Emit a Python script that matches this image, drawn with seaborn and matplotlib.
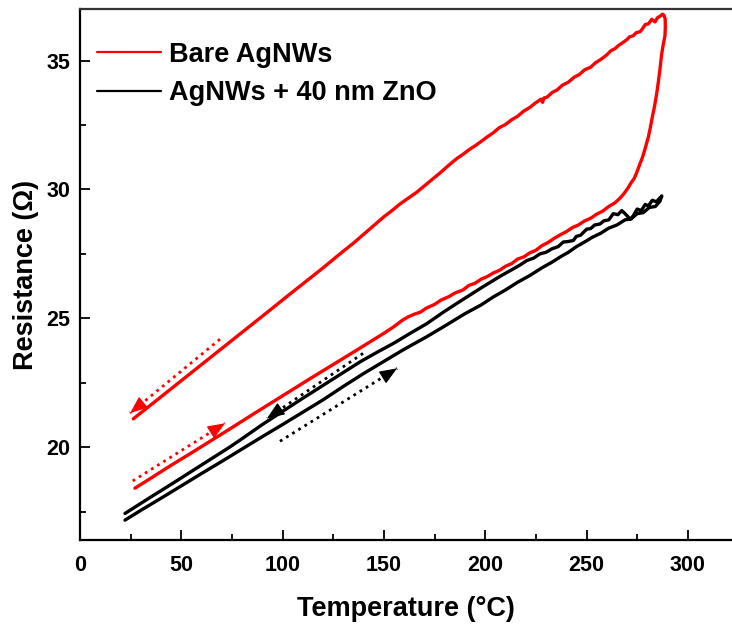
import matplotlib
matplotlib.use("Agg")
import matplotlib.pyplot as plt
from matplotlib.lines import Line2D
import numpy as np
import pandas as pd
import seaborn as sns

# ---------------- data ----------------
# Bare AgNWs, heating branch (T in degC, R in Ohm)
red_heat_T = [27.1, 35, 45, 55, 65, 75, 85, 95, 105, 115, 125, 135, 143, 150, 155, 159, 162, 165, 168,
              171, 175, 178, 182, 185, 189, 192, 195, 198, 201, 204, 207, 210, 213, 216, 219, 222, 225,
              228, 231, 234, 237, 240, 243, 246, 249, 252, 255, 258, 261, 264, 266.5, 268.5, 270.5, 272,
              273.5, 275, 276.4, 277.5, 278.8, 280.5, 281.5, 282.5, 283.5, 284.6, 285.5, 286.3, 287.0,
              287.8, 288.7, 288.9]
red_heat_R = [18.41, 18.80, 19.30, 19.78, 20.27, 20.76, 21.26, 21.75, 22.24, 22.73, 23.21, 23.69, 24.08,
              24.42, 24.68, 24.92, 25.06, 25.16, 25.24, 25.40, 25.54, 25.70, 25.84, 25.98, 26.10, 26.28,
              26.36, 26.52, 26.62, 26.76, 26.86, 27.02, 27.12, 27.30, 27.38, 27.54, 27.64, 27.82, 27.94,
              28.10, 28.24, 28.36, 28.52, 28.62, 28.78, 28.88, 29.04, 29.16, 29.34, 29.48, 29.66, 29.84,
              30.06, 30.26, 30.42, 30.70, 31.00, 31.22, 31.55, 32.03, 32.40, 32.82, 33.20, 33.70, 34.20,
              34.70, 35.20, 35.60, 35.95, 36.30]
# Bare AgNWs, cooling branch
red_cool_T = [288.8, 288.3, 287.5, 286.3, 285.0, 283.8, 282.2, 280.5, 279.0, 277.5, 276.4, 274.5, 273.0,
              271.2, 270.0, 268.0, 266.0, 264.0, 262.0, 260.0, 257.0, 254.5, 252.0, 249.0, 246.5, 244.0,
              241.0, 238.0, 235.5, 233.0, 230.5, 229.0, 228.3, 227.5, 224.5, 222.0, 219.0, 216.0, 213.0,
              210.0, 207.0, 204.0, 201.0, 199.0, 195.5, 192.0, 189.0, 186.0, 182.0, 178.0, 174.0, 170.0,
              166.0, 162.0, 158.0, 154.0, 150.0, 145.0, 140.0, 135.0, 128.0, 120.0, 111.0, 102.0, 93.0,
              85.0, 77.0, 69.0, 60.0, 50.0, 42.0, 35.0, 30.0, 26.3]
red_cool_R = [36.62, 36.75, 36.80, 36.72, 36.66, 36.50, 36.60, 36.42, 36.40, 36.22, 36.12, 36.08, 35.96,
              35.92, 35.82, 35.70, 35.60, 35.46, 35.38, 35.22, 35.04, 34.92, 34.74, 34.64, 34.46, 34.36,
              34.16, 34.04, 33.86, 33.76, 33.58, 33.55, 33.38, 33.50, 33.34, 33.18, 33.04, 32.84, 32.70,
              32.52, 32.40, 32.20, 32.04, 31.92, 31.72, 31.54, 31.36, 31.20, 30.94, 30.66, 30.40, 30.14,
              29.88, 29.66, 29.44, 29.18, 28.94, 28.60, 28.26, 27.92, 27.48, 26.96, 26.40, 25.84, 25.27,
              24.77, 24.27, 23.77, 23.21, 22.58, 22.08, 21.64, 21.33, 21.10]

# AgNWs + 40 nm ZnO, heating branch
blk_heat_T = [22.2, 30, 40, 50, 60, 70, 80, 90, 100, 110, 120, 130, 140, 150, 160, 171, 180, 190, 198,
              204, 210, 216, 222, 228, 233, 237, 241, 245, 249, 253, 257, 261, 265, 269, 272, 275, 278,
              281, 284, 286.3, 287.1]
blk_heat_R = [17.17, 17.55, 18.02, 18.50, 18.98, 19.45, 19.93, 20.41, 20.88, 21.36, 21.84, 22.36, 22.86,
              23.33, 23.80, 24.28, 24.70, 25.18, 25.52, 25.83, 26.10, 26.40, 26.66, 26.96, 27.18, 27.38,
              27.56, 27.78, 27.96, 28.15, 28.30, 28.50, 28.62, 28.82, 28.86, 29.06, 29.10, 29.30, 29.34,
              29.55, 29.75]
# AgNWs + 40 nm ZnO, cooling branch
blk_cool_T = [287.1, 286.3, 284.5, 282.5, 280.5, 279.0, 277.0, 275.0, 273.1, 271.5, 270.0, 268.5, 267.4,
              265.5, 263.2, 261.0, 258.5, 256.7, 254.0, 252.0, 250.1, 247.0, 245.0, 243.5, 241.0, 238.5,
              236.0, 233.0, 230.0, 227.0, 224.0, 220.5, 217.0, 213.0, 208.0, 204.0, 198.0, 192.0, 186.0,
              179.0, 171.1, 163.0, 155.0, 147.0, 138.2, 130.0, 120.0, 110.0, 100.0, 90.0, 80.0, 74.0,
              65.0, 55.0, 45.0, 35.0, 28.0, 22.2]
blk_cool_R = [29.72, 29.68, 29.52, 29.58, 29.36, 29.42, 29.18, 29.24, 28.98, 28.84, 28.98, 29.10, 29.18,
              29.02, 29.06, 28.82, 28.78, 28.66, 28.62, 28.48, 28.46, 28.22, 28.18, 28.02, 27.98, 27.96,
              27.78, 27.70, 27.56, 27.50, 27.34, 27.24, 27.06, 26.88, 26.66, 26.47, 26.18, 25.88, 25.58,
              25.22, 24.79, 24.42, 24.04, 23.70, 23.31, 22.90, 22.40, 21.90, 21.39, 20.88, 20.33, 20.01,
              19.56, 19.06, 18.56, 18.07, 17.72, 17.43]

series_labels = ["Bare AgNWs", "AgNWs + 40 nm ZnO"]
series_colors = ["#ff0000", "#000000"]

# direction arrows: (tail T, tail R, head T, head R)
arrow_red = [(69.1, 24.19, 24.7, 21.32), (26.0, 18.69, 71.6, 20.93)]
arrow_blk = [(139.7, 23.64, 92.3, 21.12), (98.7, 20.23, 156.5, 23.06)]

x_ticks = [0, 50, 100, 150, 200, 250, 300]
y_ticks = [20, 25, 30, 35]

# ---------------- table ----------------
frames = []
for lab, T, R in [(series_labels[0], red_heat_T + red_cool_T, red_heat_R + red_cool_R),
                  (series_labels[1], blk_heat_T + blk_cool_T, blk_heat_R + blk_cool_R)]:
    frames.append(pd.DataFrame({"T": T, "R": R, "sample": lab}))
df = pd.concat(frames, ignore_index=True)

# ---------------- style ----------------
sns.set_style("ticks")
plt.rcParams["font.family"] = ["Liberation Sans", "DejaVu Sans"]
plt.rcParams["font.weight"] = "bold"
plt.rcParams["axes.labelweight"] = "bold"
plt.rcParams["text.color"] = "black"
plt.rcParams["axes.labelcolor"] = "black"
plt.rcParams["xtick.color"] = "black"
plt.rcParams["ytick.color"] = "black"

fig = plt.figure(figsize=(7.32, 6.26), dpi=100)
ax = fig.add_axes([80 / 732, 86 / 626, 652 / 732, 531 / 626])

sns.lineplot(data=df, x="T", y="R", hue="sample", palette=dict(zip(series_labels, series_colors)),
             estimator=None, sort=False, linewidth=2.4, legend=False, ax=ax)

ax.set_xlim(0, 321.8)
ax.set_ylim(16.4, 37.0)

HEAD_PX = 16.0
for arrows, col in [(arrow_red, series_colors[0]), (arrow_blk, series_colors[1])]:
    for (t0, r0, t1, r1) in arrows:
        ax.plot([t0, t1], [r0, r1], linestyle=(0, (1, 1.6)), color=col, linewidth=2.0)
        p0 = ax.transData.transform((t0, r0))
        p1 = ax.transData.transform((t1, r1))
        u = (p1 - p0) / np.hypot(*(p1 - p0))
        pb = ax.transData.inverted().transform(p1 - HEAD_PX * u)
        ax.annotate("", xy=(t1, r1), xytext=(pb[0], pb[1]),
                    arrowprops=dict(arrowstyle="-|>,head_length=0.55,head_width=0.22",
                                    color=col, lw=0.8, mutation_scale=20, shrinkA=0, shrinkB=0))

ax.set_xticks(x_ticks)
ax.set_yticks(y_ticks)
ax.set_xticks([25, 75, 125, 175, 225, 275], minor=True)
ax.set_yticks([17.5, 22.5, 27.5, 32.5], minor=True)
ax.tick_params(which="major", direction="in", length=7, width=1.3, labelsize=15.5,
               top=False, right=False, colors="black")
ax.tick_params(axis="x", which="major", pad=11)
ax.tick_params(axis="y", which="major", pad=7)
ax.tick_params(which="minor", direction="in", length=4, width=1.3, top=False, right=False)
for lbl in ax.get_xticklabels() + ax.get_yticklabels():
    lbl.set_fontweight("bold")

for s in ["left", "bottom", "top"]:
    ax.spines[s].set_linewidth(1.6)
    ax.spines[s].set_color("black")
ax.spines["top"].set_color("#333333")
ax.spines["right"].set_visible(False)

ax.set_xlabel("Temperature (°C)", fontsize=19.5, fontweight="bold", labelpad=14)
ax.set_ylabel("Resistance (Ω)", fontsize=19.5, fontweight="bold", labelpad=5)

handles = [Line2D([0], [0], color=c, lw=1.6) for c in series_colors]
ax.legend(handles, series_labels, loc="upper left", bbox_to_anchor=(0.0265, 0.938),
          frameon=False, prop=dict(size=19.5, weight="bold"), handlelength=2.35,
          handletextpad=0.3, labelspacing=0.45, borderpad=0, borderaxespad=0)

fig.savefig("out.png", dpi=100)
